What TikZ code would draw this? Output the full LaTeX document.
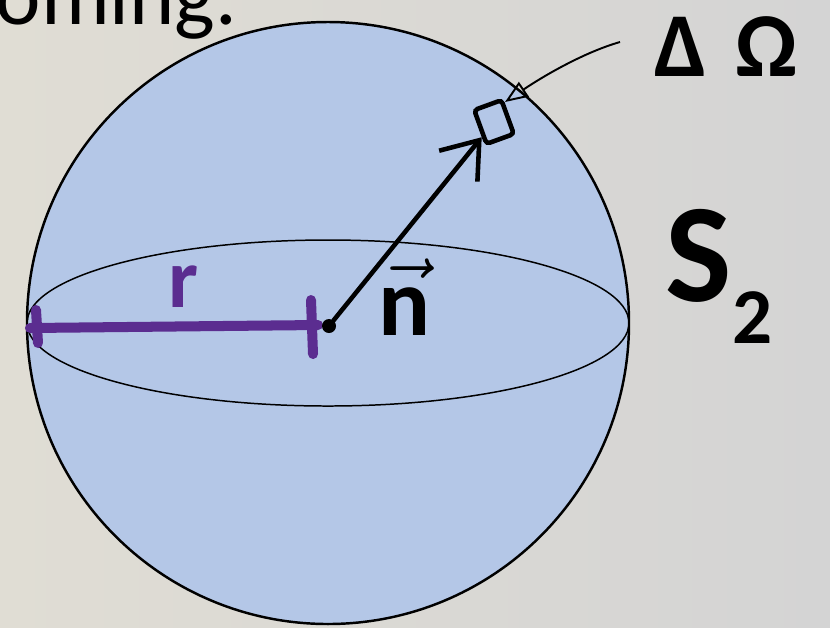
\documentclass[tikz,border=0pt]{standalone}
\usepackage{fontspec}
\setmainfont{Carlito}
\usepackage{tikz}
\usetikzlibrary{arrows.meta, calc, positioning}
\definecolor{SphBlue}{RGB}{180,199,231}
\definecolor{RadPurple}{RGB}{91,45,144}
\definecolor{BgGray}{RGB}{212,212,212}
\definecolor{BgBeige}{RGB}{224,221,212}

\begin{document}
\begin{tikzpicture}[x=0.02cm, y=-0.02cm,
            dot/.style={circle, fill=black, inner sep=0pt, minimum size=0.28cm},
            patch/.style={rectangle, draw=black, line width=2.6pt, rounded corners=2pt,
                          minimum width=0.58cm, minimum height=0.72cm, inner sep=0pt, rotate=20},
            lbl/.style={inner sep=0pt, text=black},
            vec/.style={-{Straight Barb[length=19pt, width=28pt]}, line width=2.6pt, line cap=round},
            rad/.style={RadPurple, line width=5.7pt, line cap=round},
            pointer/.style={-{Triangle[open, length=13pt, width=10pt]}, line width=1.1pt}
          ]
          % backdrop
          \useasboundingbox (0,0) rectangle (830,627);
          \shade[left color=BgBeige, right color=BgGray] (0,0) rectangle (830,627);
          \node[anchor=base west, inner sep=0pt, font=\fontsize{49}{55}\selectfont]
                (title) at (-50,24) {ooming.};

          % sphere with its equator
          \coordinate (mid) at (328,323);
          \fill[SphBlue] (mid) circle [radius=301];
          \draw[line width=1.4pt] (mid) circle [radius=301];
          \draw[line width=0.85pt] (mid) ellipse [x radius=301, y radius=83];

          % radius
          \coordinate (rim)  at (30,328);
          \coordinate (rend) at (318,325);
          \draw[rad] (rim) -- (rend);
          \draw[rad] (36,310) -- (38,343);
          \draw[rad] (311,300) -- (313,354);
          \node[lbl, text=RadPurple, font=\fontsize{48}{52}\selectfont\bfseries]
                (rlabel) at (183,287) {r};

          % normal vector to the patch
          \node[dot] (ctr) at (329,326) {};
          \node[patch] (patch) at (494,122) {};
          \draw[vec] (ctr) -- (patch);
          \node[lbl, font=\fontsize{24}{28}\selectfont\bfseries]
                (nlabel) at (405,297) {\scalebox{2.3}{$\vec{\textbf{n}}$}};

          % solid angle label
          \node[lbl, font=\fontsize{52}{56}\selectfont\bfseries]
                (dlabel) at (726,47) {Δ\hspace{0.3em}Ω};
          \coordinate (ptr) at (620,42);
          \coordinate (tip) at (505,102);
          \draw[pointer] (ptr) .. controls (585,52) and (545,75) .. (tip);

          \node[lbl, font=\fontsize{80}{86}\selectfont\bfseries]
                (slabel) at (719,276) {S\raisebox{-0.3em}{\fontsize{45}{50}\selectfont 2}};
        \end{tikzpicture}
\end{document}
